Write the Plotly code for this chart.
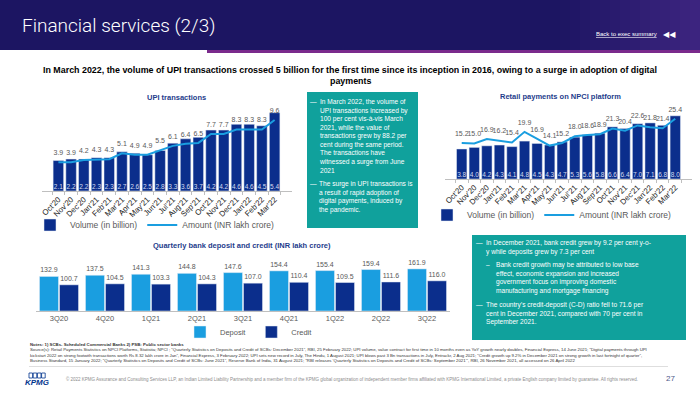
import plotly.graph_objects as go

W, H = 700, 394
def px(x): return x / W
def py(y): return 1 - y / H

# ---------------- data ----------------
months = ["Oct'20", "Nov'20", "Dec'20", "Jan'21", "Feb'21", "Mar'21", "Apr'21", "May'21", "Jun'21",
          "Jul'21", "Aug'21", "Sep'21", "Oct'21", "Nov'21", "Dec'21", "Jan'22", "Feb'22", "Mar'22"]
upi_volume = [2.1, 2.2, 2.2, 2.3, 2.3, 2.7, 2.6, 2.5, 2.8, 3.3, 3.6, 3.7, 4.2, 4.2, 4.6, 4.6, 4.5, 5.4]
upi_amount = [3.9, 3.9, 4.2, 4.3, 4.3, 5.1, 4.9, 4.9, 5.5, 6.1, 6.4, 6.5, 7.7, 7.7, 8.3, 8.3, 8.3, 9.6]
retail_volume = [3.8, 4.0, 4.2, 4.3, 4.1, 4.8, 4.5, 4.3, 4.7, 5.3, 5.6, 5.8, 6.6, 6.4, 7.0, 7.1, 6.8, 8.0]
retail_amount = [15.2, 15.0, 16.9, 16.2, 15.4, 19.9, 16.9, 14.1, 15.2, 18.0, 18.6, 18.9, 21.3, 20.4, 22.6, 21.8, 21.4, 25.4]
quarters = ["3Q20", "4Q20", "1Q21", "2Q21", "3Q21", "4Q21", "1Q22", "2Q22", "3Q22"]
deposit = [132.9, 137.5, 141.3, 144.8, 147.6, 154.4, 155.4, 159.4, 161.9]
credit = [100.7, 104.5, 103.3, 104.3, 107.0, 110.4, 109.5, 111.6, 116.0]

DARK = "#0b2e8c"
LIGHT = "#1a9ee0"
TEAL = "#10a19c"
TITLE_BLUE = "#1e3c8c"
GREY = "#595959"
FONT = "Liberation Sans, Arial, sans-serif"

fig = go.Figure()

# ---------------- UPI chart ----------------
fig.add_trace(go.Bar(x=months, y=upi_volume, name="Volume (in billion)", marker_color=DARK,
                     xaxis="x", yaxis="y", legend="legend", hoverinfo="skip"))
fig.add_trace(go.Scatter(x=months, y=[0] * len(months), text=[f"{v:.1f}" for v in upi_volume],
                         mode="text", textposition="top center", cliponaxis=False,
                         textfont=dict(size=6.5, color="#d5dbee", family=FONT),
                         xaxis="x", yaxis="y", showlegend=False, hoverinfo="skip"))
fig.add_trace(go.Scatter(x=months, y=upi_amount, name="Amount (INR lakh crore)", mode="lines+markers+text",
                         text=[f"{v:.1f}" for v in upi_amount], textposition="top center",
                         cliponaxis=False, line=dict(color=LIGHT, width=2),
                         marker=dict(size=7, color="rgba(0,0,0,0)"),
                         textfont=dict(size=7, color=GREY, family=FONT),
                         xaxis="x", yaxis="y2", legend="legend", hoverinfo="skip"))

# ---------------- Retail chart ----------------
fig.add_trace(go.Bar(x=months, y=retail_volume, name="Volume (in billion)", marker_color=DARK,
                     xaxis="x2", yaxis="y3", legend="legend2", hoverinfo="skip"))
fig.add_trace(go.Scatter(x=months, y=[0] * len(months), text=[f"{v:.1f}" for v in retail_volume],
                         mode="text", textposition="top center", cliponaxis=False,
                         textfont=dict(size=6.5, color="#d5dbee", family=FONT),
                         xaxis="x2", yaxis="y3", showlegend=False, hoverinfo="skip"))
fig.add_trace(go.Scatter(x=months, y=retail_amount, name="Amount (INR lakh crore)", mode="lines+markers+text",
                         text=[f"{v:.1f}" for v in retail_amount], textposition="top center",
                         cliponaxis=False, line=dict(color=LIGHT, width=2),
                         marker=dict(size=7, color="rgba(0,0,0,0)"),
                         textfont=dict(size=7, color=GREY, family=FONT),
                         xaxis="x2", yaxis="y4", legend="legend2", hoverinfo="skip"))

# ---------------- Quarterly chart ----------------
fig.add_trace(go.Bar(x=quarters, y=deposit, name="Deposit", marker_color=LIGHT,
                     text=[f"{v:.1f}" for v in deposit], textposition="outside", cliponaxis=False,
                     textfont=dict(size=7, color=GREY, family=FONT),
                     xaxis="x3", yaxis="y5", legend="legend3", hoverinfo="skip"))
fig.add_trace(go.Bar(x=quarters, y=credit, name="Credit", marker_color=DARK,
                     text=[f"{v:.1f}" for v in credit], textposition="outside", cliponaxis=False,
                     textfont=dict(size=7, color=GREY, family=FONT),
                     xaxis="x3", yaxis="y5", legend="legend3", hoverinfo="skip"))

month_axis = dict(type="category", tickangle=-45, showline=True, linecolor="#bfbfbf", linewidth=1,
                  ticks="outside", ticklen=3, tickcolor="#bfbfbf", tickson="boundaries",
                  tickfont=dict(size=7.8, color="#1a1a1a", family=FONT), showgrid=False, fixedrange=True)
hidden_y = dict(visible=False, showgrid=False, zeroline=False, fixedrange=True)
legend_common = dict(orientation="h", xanchor="left", yanchor="middle", bgcolor="rgba(0,0,0,0)",
                     itemwidth=30, tracegroupgap=0)

fig.update_layout(
    width=W, height=H, margin=dict(l=0, r=0, t=0, b=0),
    paper_bgcolor="white", plot_bgcolor="rgba(0,0,0,0)",
    barmode="group", bargap=0.13, bargroupgap=0.05,
    font=dict(family=FONT, color=GREY),
    xaxis=dict(domain=[px(41.5), px(291.5)], anchor="y", **month_axis),
    yaxis=dict(domain=[py(191), py(101)], range=[0, 90 / 14.5], anchor="x", **hidden_y),
    yaxis2=dict(domain=[py(191), py(101)], range=[0, 90 / 7.4], overlaying="y", anchor="x", **hidden_y),
    xaxis2=dict(domain=[px(445), px(692)], anchor="y3", **month_axis),
    yaxis3=dict(domain=[py(179), py(101)], range=[0, 78 / 7.9], anchor="x2", **hidden_y),
    yaxis4=dict(domain=[py(179), py(101)], range=[0, 78 / 2.37], overlaying="y3", anchor="x2", **hidden_y),
    xaxis3=dict(domain=[px(36), px(450)], anchor="y5", type="category", showline=True,
                linecolor="#bfbfbf", ticks="", tickfont=dict(size=7.5, color=GREY, family=FONT),
                showgrid=False, fixedrange=True),
    yaxis5=dict(domain=[py(311), py(262)], range=[0, 49 / 0.26], anchor="x3", **hidden_y),
    legend=dict(x=px(30), y=py(225), font=dict(size=8.5, color=GREY, family=FONT), **legend_common),
    legend2=dict(x=px(427), y=py(215), font=dict(size=8.5, color=GREY, family=FONT), **legend_common),
    legend3=dict(x=px(180), y=py(332), font=dict(size=7.5, color=GREY, family=FONT), **legend_common),
)

shapes = []
annotations = []

# ---------------- header ----------------
shapes.append(dict(type="rect", xref="paper", yref="paper", x0=0, x1=1, y0=py(50), y1=1,
                   fillcolor="#1c1562", line_width=0, layer="below"))
for i in range(14):
    x0 = 560 + i * 10
    shapes.append(dict(type="rect", xref="paper", yref="paper", x0=px(x0), x1=px(x0 + 10),
                       y0=py(50), y1=1, fillcolor="#6a3aa8", opacity=0.03 + i * 0.03,
                       line_width=0, layer="below"))
shapes.append(dict(type="rect", xref="paper", yref="paper", x0=px(207), x1=1, y0=py(53), y1=py(50),
                   fillcolor="#7a2a8c", line_width=0, layer="below"))

annotations.append(dict(text="Financial services (2/3)", x=px(20), y=py(26), xref="paper", yref="paper",
                        xanchor="left", yanchor="middle", showarrow=False,
                        font=dict(size=19, color="white", family="Roboto, Liberation Sans, sans-serif",
                                  weight=300)))
annotations.append(dict(text="<u>Back to exec summary</u>", x=px(659), y=py(34), xref="paper", yref="paper",
                        xanchor="right", yanchor="middle", showarrow=False,
                        font=dict(size=6, color="white", family=FONT)))
annotations.append(dict(text="◀◀", x=px(661), y=py(34), xref="paper", yref="paper",
                        xanchor="left", yanchor="middle", showarrow=False,
                        font=dict(size=8, color="white", family="DejaVu Sans")))

# subtitle
annotations.append(dict(text="<b>In March 2022, the volume of UPI transactions crossed 5 billion for the first time since its inception in 2016, owing to a surge in adoption of digital</b>",
                        x=0.5, y=py(70), xref="paper", yref="paper", xanchor="center", yanchor="middle",
                        showarrow=False, font=dict(size=8.9, color="black", family=FONT)))
annotations.append(dict(text="<b>payments</b>", x=0.5, y=py(81), xref="paper", yref="paper",
                        xanchor="center", yanchor="middle", showarrow=False,
                        font=dict(size=8.9, color="black", family=FONT)))

# chart titles
for txt, x, y in [("UPI transactions", 177, 97), ("Retail payments on NPCI platform", 560, 96),
                  ("Quarterly bank deposit and credit (INR lakh crore)", 242, 245)]:
    annotations.append(dict(text=f"<b>{txt}</b>", x=px(x), y=py(y), xref="paper", yref="paper",
                            xanchor="center", yanchor="middle", showarrow=False,
                            font=dict(size=7.5, color=TITLE_BLUE, family=FONT)))

# ---------------- teal boxes ----------------
shapes.append(dict(type="rect", xref="paper", yref="paper", x0=px(307), x1=px(418), y0=py(228), y1=py(92),
                   fillcolor=TEAL, line_width=0, layer="below"))
shapes.append(dict(type="rect", xref="paper", yref="paper", x0=px(472), x1=px(686), y0=py(340), y1=py(235),
                   fillcolor=TEAL, line_width=0, layer="below"))

def block(lines, x_dash, x_text, y_top, dash="—", size=6.6):
    annotations.append(dict(text=dash, x=px(x_dash), y=py(y_top), xref="paper", yref="paper",
                            xanchor="left", yanchor="top", showarrow=False,
                            font=dict(size=size, color="white", family=FONT)))
    annotations.append(dict(text="<br>".join(lines), x=px(x_text), y=py(y_top), xref="paper", yref="paper",
                            xanchor="left", yanchor="top", align="left", showarrow=False,
                            font=dict(size=size, color="white", family=FONT)))

block(["In March 2022, the volume of", "UPI transactions increased by", "100 per cent vis-à-vis March",
       "2021, while the value of", "transactions grew by 88.2 per", "cent during the same period.",
       "The transactions have", "witnessed a surge from June", "2021"], 308, 317, 95.5)
block(["The surge in UPI transactions is", "a result of rapid adoption of",
       "digital payments, induced by", "the pandemic."], 308, 317, 178.5)

block(["In December 2021, bank credit grew by 9.2 per cent y-o-", "y while deposits grew by 7.3 per cent"],
      474, 484, 236.5)
block(["Bank credit growth may be attributed to low base", "effect, economic expansion and increased",
       "government focus on improving domestic", "manufacturing and mortgage financing"],
      484, 494, 258.5, dash="–")
block(["The country’s credit-deposit (C-D) ratio fell to 71.6 per",
       "cent in December 2021, compared with 70 per cent in", "September 2021."], 474, 484, 298.5)

# ---------------- notes ----------------
notes = [
    "<b>Notes: 1) SCBs- Scheduled Commercial Banks 2) PSB: Public sector banks</b>",
    "Source(s): Retail Payments Statistics on NPCI Platforms, Statistia; NPCI ; “Quarterly Statistics on Deposits and Credit of SCBs: December 2021”, RBI, 25 February 2022; UPI volume, value contract for first time in 10 months even as YoY growth nearly doubles, Financial Express, 14 June 2021; “Digital payments through UPI",
    "kickstart 2022 on strong footwith transactions worth Rs 8.32 lakh crore in Jan”, Financial Express, 3 February 2022; UPI sets new record in July, The Hindu, 1 August 2021; UPI blows past 3 Bn transactions in July, Entrackr, 2 Aug 2021; “Credit growth up 9.2% in December 2021 on strong growth in last fortnight of quarter”,",
    "Business Standard, 15 January 2022; “Quarterly Statistics on Deposits and Credit of SCBs: June 2021”, Reserve Bank of India, 31 August 2021; “RBI releases ‘Quarterly Statistics on Deposits and Credit of SCBs: September 2021’”, RBI, 26 November 2021, all accessed on 26 April 2022",
]
for i, t in enumerate(notes):
    annotations.append(dict(text=t, x=px(28), y=py(344 + i * 5.6), xref="paper", yref="paper",
                            xanchor="left", yanchor="middle", showarrow=False,
                            font=dict(size=4.3, color="#333333", family=FONT)))
shapes.append(dict(type="line", xref="paper", yref="paper", x0=px(29), x1=px(668), y0=py(366.5), y1=py(366.5),
                   line=dict(color="#d0d0d0", width=0.7)))

# ---------------- footer ----------------
for i in range(4):
    shapes.append(dict(type="rect", xref="paper", yref="paper", x0=px(29 + i * 4.2), x1=px(32.6 + i * 4.2),
                       y0=py(378), y1=py(373), line=dict(color="#00338d", width=0.8),
                       fillcolor="rgba(0,0,0,0)"))
annotations.append(dict(text="<b><i>KPMG</i></b>", x=px(37), y=py(382.5), xref="paper", yref="paper",
                        xanchor="center", yanchor="middle", showarrow=False,
                        font=dict(size=8, color="#00338d", family=FONT)))
annotations.append(dict(text="© 2022 KPMG Assurance and Consulting Services LLP, an Indian Limited Liability Partnership and a member firm of the KPMG global organization of independent member firms affiliated with KPMG International Limited, a private English company limited by guarantee. All rights reserved.",
                        x=px(64), y=py(378.5), xref="paper", yref="paper", xanchor="left", yanchor="middle",
                        showarrow=False, font=dict(size=4.5, color="#8c8c8c", family=FONT)))
annotations.append(dict(text="27", x=px(670), y=py(378.5), xref="paper", yref="paper", xanchor="center",
                        yanchor="middle", showarrow=False, font=dict(size=8, color="#4d5a8a", family=FONT)))

fig.update_layout(shapes=shapes, annotations=annotations)
fig.write_html("out.html", config={"displayModeBar": False},
               post_script="document.body.style.margin='0';document.body.style.overflow='hidden';")
